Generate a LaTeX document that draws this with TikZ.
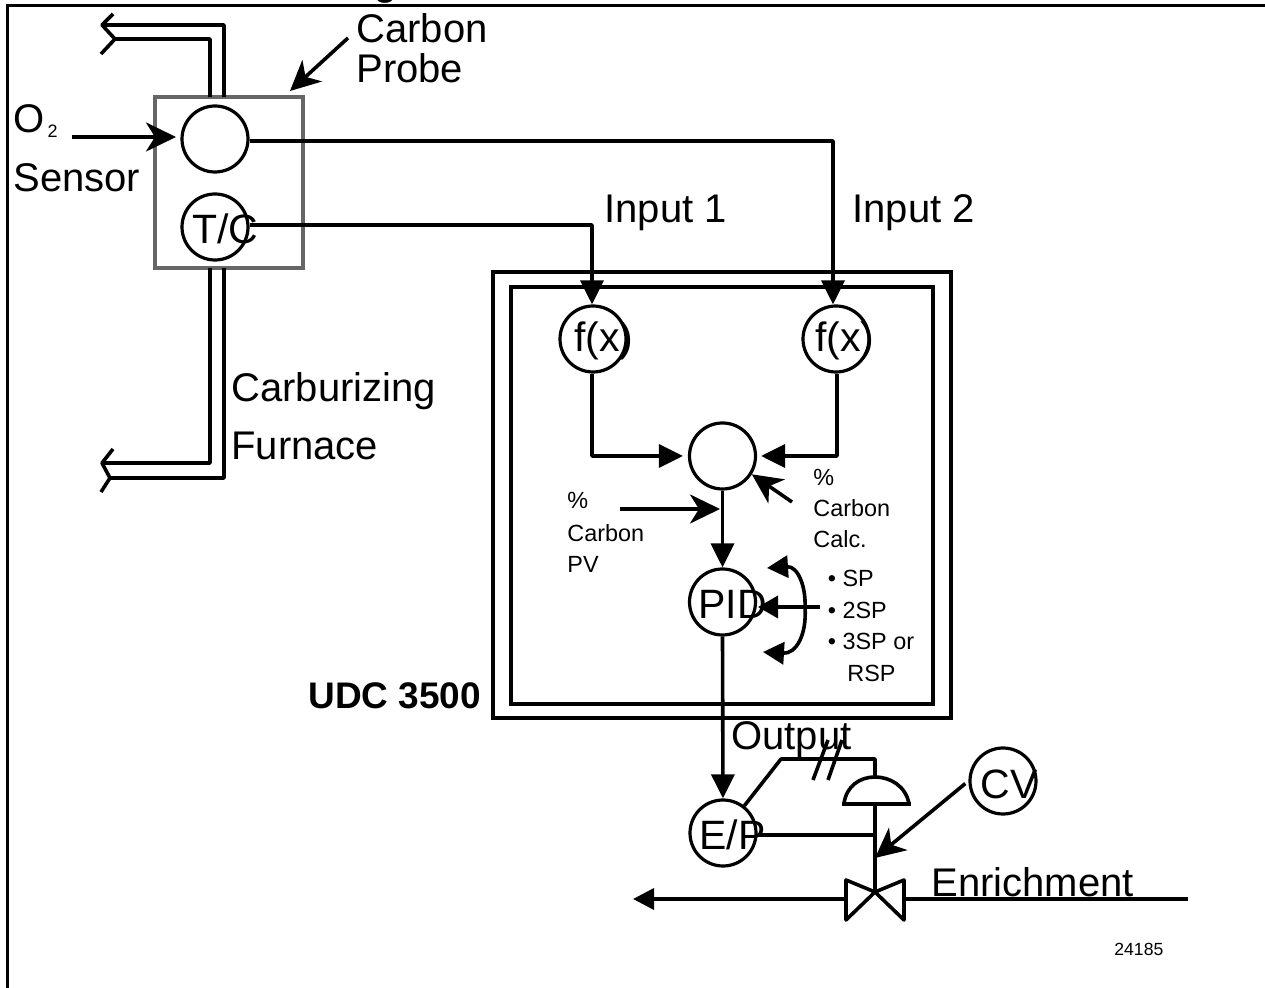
\documentclass[tikz,border=0pt]{standalone}
\usepackage{fontspec}
\setmainfont{Liberation Sans}
\usetikzlibrary{arrows.meta, positioning, calc}

\begin{document}
\begin{tikzpicture}[
    x=0.5pt, y=-0.5pt,
    wire/.style={line width=1.8pt, line join=round},
    pipe/.style={line width=1.9pt, line join=round},
    arrowfill/.style={wire, -{Triangle[length=12pt, width=11.5pt]}},
    arrownotch/.style={wire, -{Stealth[length=15pt, width=14.5pt, inset=4.5pt]}},
    ring/.style={draw, circle, line width=1.6pt, minimum size=33pt, inner sep=0pt},
    panel/.style={draw, rectangle, line width=1.8pt, inner sep=0pt},
    lblbig/.style={anchor=base west, inner sep=0pt, font=\fontsize{20}{24}\selectfont},
    lblring/.style={anchor=base west, inner sep=0pt, font=\fontsize{20.5}{24}\selectfont},
    lblsmall/.style={anchor=base west, inner sep=0pt, font=\fontsize{11.7}{14}\selectfont},
    lblbold/.style={anchor=base west, inner sep=0pt, font=\fontsize{18.5}{22}\selectfont\bfseries},
]
\useasboundingbox (0,0) rectangle (1265,988);

% ── Page edges ──
\coordinate (edgeA) at (7,988);
\coordinate (edgeB) at (7,6);
\coordinate (edgeC) at (1265,6);
\draw[line width=1.5pt] (edgeA) -- (edgeB) -- (edgeC);
\node[lblbold] (titlecut) at (374,-4.5) {g};

% ── Controller frames ──
\node[panel, minimum width=229pt, minimum height=223pt] (udcouter) at (722,495) {};
\node[panel, minimum width=211pt, minimum height=208.5pt] (udcinner) at (722,495.5) {};
\node[lblbold] (udclabel) at (308,709) {UDC 3500};

% ── Probe ──
\node[draw=black!60, rectangle, line width=2pt, inner sep=0pt,
      minimum width=74pt, minimum height=85.5pt] (probe) at (228.5,182.5) {};
\node[ring] (sensor) at (215,139) {};
\node[ring] (tc) at (215,227) {};
\node[lblring] (tclabel) at (192,244) {T/C};
\node[lblbig] (carbonlabel) at (356,43) {Carbon};
\node[lblbig] (probelabel) at (356,83) {Probe};
\node[lblbig] (o2label) at (13,133) {O{\fontsize{9}{9}\selectfont\,\raisebox{-2.5pt}{2}}};
\node[lblbig] (sensorlabel) at (13,192) {Sensor};
\node[lblbig] (carburlabel) at (231,402) {Carburizing};
\node[lblbig] (furnacelabel) at (231,460) {Furnace};

\coordinate (probefrom) at (348,38);
\coordinate (probetip) at (290,91);
\coordinate (o2from) at (72,137);
\coordinate (o2tip) at (176,137);
\draw[arrownotch] (probefrom) -- (probetip);
\draw[arrownotch] (o2from) -- (o2tip);

% ── Furnace pipes ──
\coordinate (upA) at (224,97);
\coordinate (upB) at (224,25);
\coordinate (upC) at (102,25);
\coordinate (upD) at (210,97);
\coordinate (upE) at (210,39);
\coordinate (upF) at (115,39);
\coordinate (upG) at (113,14);
\coordinate (upH) at (101,54);
\draw[pipe] (upA) -- (upB) -- (upC);
\draw[pipe] (upD) -- (upE) -- (upF);
\draw[wire] (upG) -- (upC) -- (upF) -- (upH);

\coordinate (lowA) at (224,268);
\coordinate (lowB) at (224,478);
\coordinate (lowC) at (110,478);
\coordinate (lowD) at (210,268);
\coordinate (lowE) at (210,463);
\coordinate (lowF) at (102,463);
\coordinate (lowG) at (113,449);
\coordinate (lowH) at (101,492);
\draw[pipe] (lowA) -- (lowB) -- (lowC);
\draw[pipe] (lowD) -- (lowE) -- (lowF);
\draw[wire] (lowG) -- (lowF) -- (lowC) -- (lowH);

% ── Inputs ──
\node[ring] (fxa) at (593,339) {};
\node[ring] (fxb) at (836,339) {};
\node[lblring] (fxalabel) at (574,352) {f(x)};
\node[lblring] (fxblabel) at (815,352) {f(x)};
\node[lblbig] (inputa) at (604,223) {Input 1};
\node[lblbig] (inputb) at (852,223) {Input 2};

\coordinate (benda) at (592,225);
\coordinate (bendb) at (833,141);
\draw[arrowfill] ([yshift=1pt]tc.east) -- (benda) -- ([xshift=-0.5pt]fxa.north);
\draw[arrowfill] ([yshift=-1pt]sensor.east) -- (bendb) -- ([xshift=-1.5pt]fxb.north);

% ── Carbon calculation ──
\node[ring] (mix) at (722.5,456) {};
\coordinate (benda2) at (592,456);
\coordinate (bendb2) at (837,456);
\coordinate (calcfrom) at (792,502);
\coordinate (pvfrom) at (620,509);
\coordinate (pvtip) at (720,509);
\draw[arrowfill, shorten >=2.5pt] ([xshift=-0.5pt]fxa.south) -- (benda2) -- (mix.west);
\draw[arrowfill, shorten >=2pt] ([xshift=0.5pt]fxb.south) -- (bendb2) -- (mix.east);
\draw[arrownotch] (calcfrom) -- (mix.-32);
\draw[arrownotch] (pvfrom) -- (pvtip);

\node[lblsmall] (pcta) at (567,509) {\%};
\node[lblsmall] (carbona) at (567,542) {Carbon};
\node[lblsmall] (pvlabel) at (567,573) {PV};
\node[lblsmall] (pctb) at (813,486) {\%};
\node[lblsmall] (carbonb) at (813,517) {Carbon};
\node[lblsmall] (calclabel) at (813,548) {Calc.};

% ── PID and setpoints ──
\node[ring] (pid) at (722.5,602) {};
\node[lblring] (pidlabel) at (698,619) {PID};
\draw[arrowfill] (mix.south) -- (pid.north);

\node[lblsmall] (splabel) at (827.5,587) {• SP};
\node[lblsmall] (sptwo) at (827.5,619) {• 2SP};
\node[lblsmall] (spthree) at (827.5,650) {• 3SP or};
\node[lblsmall] (rsplabel) at (847,682) {RSP};

\coordinate (spfrom) at (820,607);
\coordinate (sptip) at (758,607);
\coordinate (swing) at (805,607);
\coordinate (swingup) at (767,568);
\coordinate (swingdown) at (763,652);
\draw[wire, -{Triangle[length=10pt, width=11pt]}] (spfrom) -- (sptip);
\draw[wire, -{Triangle[length=10.5pt, width=11pt]}] (swing) .. controls (806,587) and (798,566) .. (swingup);
\draw[wire, -{Triangle[length=10.5pt, width=11pt]}] (swing) .. controls (807,635) and (796,654) .. (swingdown);

% ── Output ──
\node[ring] (ep) at (723,833) {};
\node[ring] (cv) at (1003,781) {};
\node[lblring] (eplabel) at (699,850) {E/P};
\node[lblring] (cvlabel) at (980,799) {CV};
\node[lblbig] (outputlabel) at (731,750) {Output};
\node[lblbig] (enrichlabel) at (931,897) {Enrichment};
\node[anchor=base west, inner sep=0pt, font=\fontsize{8.8}{10}\selectfont] (figno) at (1114,956) {24185};
\draw[arrowfill] (pid.south) -- (ep.north);

\coordinate (aira) at (781,759);
\coordinate (airb) at (875,759);
\coordinate (domet) at (875,777);
\coordinate (domel) at (844,804);
\coordinate (domer) at (909,804);
\coordinate (basel) at (842,804);
\coordinate (baser) at (911,804);
\coordinate (stemtop) at (875,804);
\coordinate (stemep) at (875,835);
\coordinate (cvtip) at (875,858);
\coordinate (slasha) at (813,780);
\coordinate (slashb) at (828,740);
\coordinate (slashc) at (828,780);
\coordinate (slashd) at (842,740);
\draw[wire] (ep) -- (aira) -- (airb) -- (domet);
\draw[wire] (slasha) -- (slashb);
\draw[wire] (slashc) -- (slashd);
\draw[wire] (domel) .. controls (846,786) and (860,777) .. (domet)
            .. controls (890,777) and (906,786) .. (domer);
\draw[wire] (basel) -- (baser);
\draw[wire] ([yshift=-1pt]ep.east) -- (stemep);
\draw[arrownotch, shorten <=2pt] (cv.west) -- (cvtip);

% ── Valve ──
\coordinate (valvec) at (875,892);
\coordinate (valvea) at (846,880);
\coordinate (valveb) at (846,920);
\coordinate (valved) at (904,920);
\coordinate (valvee) at (904,880);
\coordinate (flowin) at (1188,899);
\coordinate (flowr) at (906,899);
\coordinate (flowl) at (846,899);
\coordinate (flowout) at (633,899);
\draw[wire] (stemtop) -- (valvec);
\draw[wire] (valvec) -- (valvea) -- (valveb) -- (valvec) -- (valved) -- (valvee) -- cycle;
\draw[wire] (flowin) -- (flowr);
\draw[wire, -{Triangle[length=10.5pt, width=10.5pt]}] (flowl) -- (flowout);
\end{tikzpicture}
\end{document}
